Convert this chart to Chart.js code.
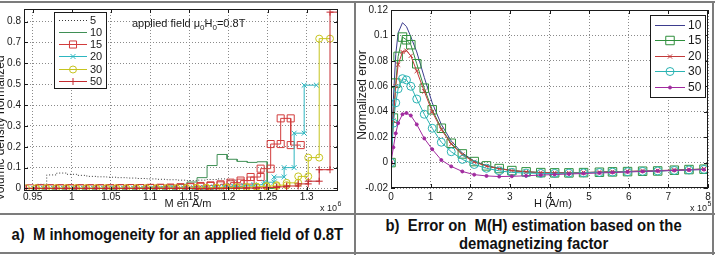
<!DOCTYPE html>
<html>
<head>
<meta charset="utf-8">
<script src="https://cdn.jsdelivr.net/npm/chart.js@4.4.1/dist/chart.umd.min.js"></script>
<style>
  body { margin: 0; background: #fff; }
  #page { position: relative; width: 715px; height: 255px; overflow: hidden; }
  canvas { position: absolute; top: 0; }
  #magChart { left: 0; }
  #errChart { left: 357px; }
  .rule { position: absolute; background: #7c7c7c; }
  .caption {
    position: absolute; top: 215px; height: 37px;
    display: flex; align-items: center; justify-content: center; text-align: center;
    font-family: 'Liberation Sans', Arial, sans-serif;
    font-weight: bold; font-size: 16.5px; line-height: 18px; color: #111;
  }
  .caption span { display: inline-block; white-space: nowrap; transform: scaleX(0.9); }
</style>
</head>
<body>
<div id="page">
  <canvas id="magChart" width="355" height="212"></canvas>
  <canvas id="errChart" width="358" height="212"></canvas>
  <div class="rule" style="left:0;top:1px;width:715px;height:2px"></div>
  <div class="rule" style="left:354px;top:1px;width:2px;height:254px"></div>
  <div class="rule" style="left:712px;top:1px;width:2px;height:254px"></div>
  <div class="rule" style="left:0;top:213px;width:715px;height:2px"></div>
  <div class="rule" style="left:0;top:252px;width:715px;height:2px"></div>
  <div class="caption" style="left:0;width:354px"><span>a)&nbsp; M inhomogeneity for an applied field of 0.8T</span></div>
  <div class="caption" style="left:356px;width:356px"><span>b)&nbsp; Error on&nbsp; M(H) estimation based on the<br>demagnetizing factor</span></div>
</div>
<script>
// ---- left plot: M distribution (x in 1e6 A/m) ----
const mTicks = [0.95, 1, 1.05, 1.1, 1.15, 1.2, 1.25, 1.3];
const mTickLabels = ['0.95', '1', '1.05', '1.1', '1.15', '1.2', '1.25', '1.3'];
const densTicks = [0, 0.1, 0.2, 0.3, 0.4, 0.5, 0.6, 0.7, 0.8];
const densTickLabels = ['0', '0.1', '0.2', '0.3', '0.4', '0.5', '0.6', '0.7', '0.8'];
const densLabels = ['5', '10', '15', '20', '30', '50'];

// bin edges and heights for each curve
const m5 = [0.9424, 0.9552, 0.968, 0.9808, 0.9936, 1.0064, 1.0192, 1.032, 1.0448, 1.0576, 1.0704, 1.0832,
  1.096, 1.1088, 1.1216, 1.1344, 1.1472, 1.16, 1.1728, 1.1856, 1.1984, 1.2112, 1.224];
const d5 = [0, 0.02, 0.065, 0.074, 0.068, 0.063, 0.058, 0.056, 0.054, 0.052, 0.05, 0.048,
  0.046, 0.044, 0.042, 0.04, 0.038, 0.04, 0.043, 0.046, 0.04, 0];

const m10 = [0.9424, 1.0832, 1.096, 1.1088, 1.1216, 1.1344, 1.1472, 1.16, 1.1728, 1.1856, 1.1984, 1.2112,
  1.224, 1.2368, 1.2496, 1.2624];
const d10 = [0, 0.002, 0.004, 0.007, 0.012, 0.02, 0.031, 0.052, 0.11, 0.163, 0.14, 0.13, 0.125, 0.128, 0];

const m15 = [0.9468, 0.9596, 0.9724, 0.9852, 0.998, 1.0108, 1.0236, 1.0364, 1.0492, 1.062, 1.0748, 1.0876,
  1.1004, 1.1132, 1.126, 1.1388, 1.1516, 1.1644, 1.1772, 1.19, 1.2028, 1.2156, 1.2284, 1.2412, 1.254,
  1.2668, 1.2796, 1.2924];
const d15 = [0.001, 0.001, 0.001, 0.001, 0.001, 0.001, 0.001, 0.001, 0.001, 0.002, 0.002, 0.002, 0.003, 0.003,
  0.004, 0.006, 0.008, 0.012, 0.015, 0.02, 0.028, 0.038, 0.055, 0.095, 0.213, 0.336, 0.208];

const m20 = [0.9512, 0.964, 0.9768, 0.9896, 1.0024, 1.0152, 1.028, 1.0408, 1.0536, 1.0664, 1.0792, 1.092,
  1.1048, 1.1176, 1.1304, 1.1432, 1.156, 1.1688, 1.1816, 1.1944, 1.2072, 1.22, 1.2328, 1.2456, 1.2584,
  1.2712, 1.284, 1.2968, 1.3124];
const d20 = [0.001, 0.001, 0.001, 0.001, 0.001, 0.001, 0.001, 0.001, 0.001, 0.001, 0.001, 0.001, 0.001, 0.001,
  0.001, 0.002, 0.003, 0.004, 0.006, 0.008, 0.01, 0.013, 0.018, 0.03, 0.055, 0.1, 0.265, 0.495];

const m30 = [0.9416, 0.9544, 0.9672, 0.98, 0.9928, 1.0056, 1.0184, 1.0312, 1.044, 1.0568, 1.0696, 1.0824,
  1.0952, 1.108, 1.1208, 1.1336, 1.1464, 1.1592, 1.172, 1.1848, 1.1976, 1.2104, 1.2232, 1.236, 1.2488,
  1.2616, 1.2744, 1.2892, 1.302, 1.316, 1.3298];
const d30 = [0.001, 0.001, 0.001, 0.001, 0.001, 0.001, 0.001, 0.001, 0.001, 0.001, 0.001, 0.001, 0.001, 0.001,
  0.001, 0.001, 0.002, 0.003, 0.003, 0.004, 0.005, 0.006, 0.007, 0.009, 0.012, 0.016, 0.027, 0.058, 0.148, 0.718];

const m50 = [0.9416, 0.9544, 0.9672, 0.98, 0.9928, 1.0056, 1.0184, 1.0312, 1.044, 1.0568, 1.0696, 1.0824,
  1.0952, 1.108, 1.1208, 1.1336, 1.1464, 1.1592, 1.172, 1.1848, 1.1976, 1.2104, 1.2232, 1.236, 1.2488,
  1.2616, 1.2744, 1.2892, 1.302, 1.316, 1.3298, 1.343];
const d50 = [0.0005, 0.0005, 0.0005, 0.0005, 0.0005, 0.0005, 0.0005, 0.0005, 0.0005, 0.0005, 0.0005, 0.0005,
  0.0005, 0.0005, 0.0005, 0.0005, 0.0005, 0.0005, 0.0005, 0.001, 0.001, 0.002, 0.002, 0.003, 0.005, 0.008,
  0.012, 0.022, 0.035, 0.09, 0.845];

// ---- right plot: normalized error vs H (x in 1e5 A/m) ----
const hTicks = [0, 1, 2, 3, 4, 5, 6, 7, 8];
const hTickLabels = ['0', '1', '2', '3', '4', '5', '6', '7', '8'];
const errTicks = [-0.02, 0, 0.02, 0.04, 0.06, 0.08, 0.1, 0.12];
const errTickLabels = ['-0.02', '0', '0.02', '0.04', '0.06', '0.08', '0.1', '0.12'];
const errLabels = ['10', '15', '20', '30', '50'];

const hVals = [0, 0.06, 0.12, 0.18, 0.29, 0.39, 0.5, 0.65, 0.84, 1.04, 1.27, 1.52, 1.8, 2.1, 2.41, 2.73,
  3.05, 3.41, 3.78, 4.13, 4.49, 4.86, 5.26, 5.59, 5.97, 6.35, 6.73, 7.15, 7.52, 7.9];
const err10 = [0, 0.05, 0.085, 0.102, 0.11, 0.107, 0.099, 0.087, 0.067, 0.047, 0.03, 0.017, 0.0075, 0.0012,
  -0.0024, -0.0046, -0.0062, -0.0073, -0.0079, -0.0081, -0.0081, -0.0079, -0.0076, -0.0073, -0.0071,
  -0.0068, -0.0065, -0.006, -0.0056, -0.0052];
const err15 = [0, 0.035, 0.0625, 0.0835, 0.0987, 0.0966, 0.0927, 0.0777, 0.0585, 0.0415, 0.027, 0.0152,
  0.0068, 0.0008, -0.0026, -0.0047, -0.0063, -0.0073, -0.0079, -0.0081, -0.0081, -0.0079, -0.0076,
  -0.0073, -0.0071, -0.0068, -0.0066, -0.006, -0.0055, -0.0052];
const err20 = [0, 0.033, 0.06, 0.077, 0.087, 0.088, 0.084, 0.072, 0.056, 0.04, 0.026, 0.0145, 0.0062,
  0.0005, -0.0028, -0.0048, -0.0063, -0.0073, -0.0078, -0.008, -0.008, -0.0078, -0.0075, -0.0072,
  -0.0069, -0.0066, -0.0063, -0.0059, -0.0055, -0.0051];
const err30 = [0, 0.031, 0.047, 0.058, 0.066, 0.065, 0.06, 0.05, 0.038, 0.027, 0.016, 0.0085, 0.0025,
  -0.0015, -0.0045, -0.0065, -0.0077, -0.0083, -0.0085, -0.0085, -0.0083, -0.0081, -0.0078, -0.0075,
  -0.0072, -0.0069, -0.0066, -0.0062, -0.0058, -0.0054];
const err50 = [0, 0.012, 0.023, 0.031, 0.038, 0.039, 0.037, 0.03, 0.019, 0.0105, 0.002, -0.003, -0.007,
  -0.0095, -0.0105, -0.011, -0.0108, -0.0104, -0.0098, -0.0094, -0.009, -0.0086, -0.0082, -0.0078,
  -0.0074, -0.007, -0.0066, -0.0062, -0.0058, -0.0055];

const FONT = 'Liberation Sans';
const INK = '#1a1a1a';

// histogram outline: each bin gives a flat segment with a point at both ends
function stairs(edges, values) {
    const pts = [];
    values.forEach((v, i) => {
        pts.push({ x: edges[i], y: v });
        pts.push({ x: edges[i + 1], y: v });
    });
    return pts;
}

function curve(xs, ys) {
    return xs.map((x, i) => ({ x: x, y: ys[i] }));
}

function series(label, data, color, style, radius, dash, fill) {
    return {
        label: label,
        data: data,
        showLine: true,
        borderColor: color,
        borderWidth: 1,
        borderDash: dash || [],
        tension: 0,
        pointStyle: style || 'circle',
        pointRadius: radius || 0,
        pointBorderColor: color,
        pointBackgroundColor: fill || 'rgba(0,0,0,0)',
        pointBorderWidth: 1
    };
}

function axis(min, max, ticks, labels, size, pad, horizontal) {
    return {
        type: 'linear',
        min: min,
        max: max,
        afterBuildTicks: s => { s.ticks = ticks.map(v => ({ value: v })); },
        afterFit: s => { if (horizontal) s.height = size; else s.width = size; },
        ticks: {
            callback: (v, i) => labels[i],
            padding: pad,
            font: { family: FONT, size: 10 },
            color: INK,
            maxRotation: 0,
            autoSkip: false
        },
        grid: { color: '#8a8a8a', lineWidth: 1, drawTicks: false },
        border: { display: false, dash: [1, 2] }
    };
}

function drawLegend(chart, L) {
    const ctx = chart.ctx;
    ctx.save();
    ctx.fillStyle = '#fff';
    ctx.fillRect(L.x, L.y, L.w, L.h);
    ctx.strokeStyle = INK;
    ctx.lineWidth = 1;
    ctx.strokeRect(L.x + 0.5, L.y + 0.5, L.w, L.h);
    ctx.font = L.size + 'px ' + FONT;
    ctx.textBaseline = 'middle';
    chart.data.datasets.forEach((ds, i) => {
        const y = Math.round(L.y + L.first + i * L.step) + 0.5;
        ctx.strokeStyle = ds.borderColor;
        ctx.setLineDash(ds.borderDash);
        ctx.beginPath();
        ctx.moveTo(L.x + L.line[0], y);
        ctx.lineTo(L.x + L.line[1], y);
        ctx.stroke();
        ctx.setLineDash([]);
        if (ds.pointRadius > 0) {
            ctx.fillStyle = ds.pointBackgroundColor;
            Chart.helpers.drawPoint(ctx, { pointStyle: ds.pointStyle, radius: ds.pointRadius, rotation: 0, borderWidth: 1 },
                L.x + (L.line[0] + L.line[1]) / 2, y);
        }
        ctx.fillStyle = INK;
        ctx.fillText(ds.label, L.x + L.text, y);
    });
    ctx.restore();
}

// Matlab-like frame: box, inward ticks on all sides, labels, legend
const matlabAxes = {
    id: 'matlabAxes',
    afterDatasetsDraw(chart, args, o) {
        const ctx = chart.ctx;
        const a = chart.chartArea;
        const xs = chart.scales.x;
        const ys = chart.scales.y;
        ctx.save();
        ctx.strokeStyle = INK;
        ctx.lineWidth = 1;
        ctx.setLineDash([]);
        ctx.beginPath();
        xs.ticks.forEach(t => {
            const px = Math.round(xs.getPixelForValue(t.value)) + 0.5;
            ctx.moveTo(px, a.bottom); ctx.lineTo(px, a.bottom - 4);
            ctx.moveTo(px, a.top); ctx.lineTo(px, a.top + 4);
        });
        ys.ticks.forEach(t => {
            const py = Math.round(ys.getPixelForValue(t.value)) + 0.5;
            ctx.moveTo(a.left, py); ctx.lineTo(a.left + 4, py);
            ctx.moveTo(a.right, py); ctx.lineTo(a.right - 4, py);
        });
        ctx.stroke();
        ctx.strokeRect(Math.round(a.left) + 0.5, Math.round(a.top) + 0.5, Math.round(a.width) - 1, Math.round(a.height) - 1);
        ctx.restore();
    },
    afterDraw(chart, args, o) {
        const ctx = chart.ctx;
        ctx.save();
        ctx.fillStyle = INK;
        ctx.textAlign = 'center';
        ctx.textBaseline = 'middle';
        ctx.font = '11px ' + FONT;
        ctx.fillText(o.xTitle.text, o.xTitle.x, o.xTitle.y);

        ctx.save();
        ctx.translate(o.yTitle.x, o.yTitle.y);
        ctx.rotate(-Math.PI / 2);
        ctx.font = '12px ' + FONT;
        ctx.fillText(o.yTitle.text, 0, 0);
        ctx.restore();

        ctx.textAlign = 'left';
        ctx.textBaseline = 'alphabetic';
        ctx.font = '9px ' + FONT;
        ctx.fillText('x 10', o.exp.x, o.exp.y);
        const w = ctx.measureText('x 10').width;
        ctx.font = '7px ' + FONT;
        ctx.fillText(o.exp.power, o.exp.x + w + 0.5, o.exp.y - 5);

        if (o.note) {
            let x = o.note.x;
            o.note.parts.forEach(p => {
                ctx.font = (p.sub ? '8px ' : '11px ') + FONT;
                ctx.fillText(p.t, x, p.sub ? o.note.y + 3 : o.note.y);
                x += ctx.measureText(p.t).width;
            });
        }
        ctx.restore();
        drawLegend(chart, o.legend);
    }
};

const magSets = [
    series(densLabels[0], stairs(m5, d5), '#3a3a3a', 'circle', 0, [1, 2]),
    series(densLabels[1], stairs(m10, d10), '#3f8f55'),
    series(densLabels[2], stairs(m15, d15), '#d23c3c', 'rect', 5),
    series(densLabels[3], stairs(m20, d20), '#2db6c0', 'crossRot', 3.5),
    series(densLabels[4], stairs(m30, d30), '#c6c41e', 'circle', 3.5),
    series(densLabels[5], stairs(m50, d50), '#c42a30', 'cross', 3.5)
];
magSets.forEach((ds, i) => { ds.order = magSets.length - i; });

new Chart(document.getElementById('magChart'), {
    type: 'scatter',
    data: { datasets: magSets },
    options: {
        responsive: false,
        animation: false,
        events: [],
        layout: { padding: { left: 0, top: 7, right: 17, bottom: 0 } },
        plugins: {
            legend: { display: false },
            tooltip: { enabled: false },
            matlabAxes: {
                xTitle: { text: 'M en A/m', x: 188, y: 204 },
                yTitle: { text: 'Volumic density normalized', x: 1, y: 128 },
                exp: { power: '6', x: 320, y: 211 },
                note: {
                    x: 132, y: 27,
                    parts: [{ t: 'applied field \u03bc' }, { t: '0', sub: true }, { t: 'H' }, { t: '0', sub: true }, { t: '=0.8T' }]
                },
                legend: { x: 54, y: 12, w: 52, h: 76, first: 7.5, step: 12.3, line: [5, 33], text: 36, size: 11 }
            }
        },
        scales: {
            x: axis(0.939, 1.34, mTicks, mTickLabels, 21, 0, true),
            y: axis(-0.012, 0.86, densTicks, densTickLabels, 24, 3, false)
        }
    },
    plugins: [matlabAxes]
});

const errSets = [
    series(errLabels[0], curve(hVals, err10), '#3d3d8e'),
    series(errLabels[1], curve(hVals, err15), '#2f8f3c', 'rect', 6),
    series(errLabels[2], curve(hVals, err20), '#c23a3a', 'crossRot', 3),
    series(errLabels[3], curve(hVals, err30), '#2bb3b3', 'circle', 4),
    series(errLabels[4], curve(hVals, err50), '#a02a9e', 'circle', 1.5, null, '#a02a9e')
];
errSets.forEach((ds, i) => { ds.order = errSets.length - i; });

new Chart(document.getElementById('errChart'), {
    type: 'scatter',
    data: { datasets: errSets },
    options: {
        responsive: false,
        animation: false,
        events: [],
        layout: { padding: { left: 0, top: 10, right: 6, bottom: 0 } },
        plugins: {
            legend: { display: false },
            tooltip: { enabled: false },
            matlabAxes: {
                xTitle: { text: 'H (A/m)', x: 196, y: 204 },
                yTitle: { text: 'Normalized error', x: 6, y: 95 },
                exp: { power: '5', x: 333, y: 211 },
                legend: { x: 293, y: 15, w: 55, h: 82, first: 10, step: 15.4, line: [5, 35], text: 38, size: 12 }
            }
        },
        scales: {
            x: axis(0, 8, hTicks, hTickLabels, 24, 3, true),
            y: axis(-0.02, 0.12, errTicks, errTickLabels, 34, 3, false)
        }
    },
    plugins: [matlabAxes]
});
</script>
</body>
</html>
